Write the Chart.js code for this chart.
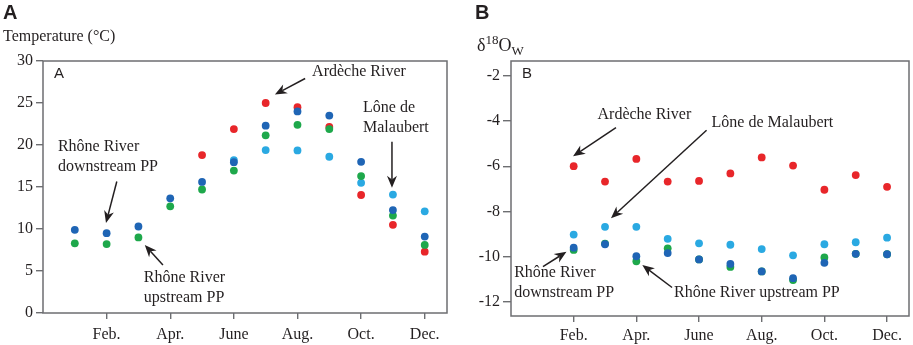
<!DOCTYPE html>
<html>
<head>
<meta charset="utf-8">
<script src="https://cdn.jsdelivr.net/npm/chart.js@4.4.1/dist/chart.umd.min.js"></script>
<style>
  body { margin: 0; background: #fff; width: 913px; height: 345px; position: relative; overflow: hidden; }
  #wrapA { position: absolute; left: 0; top: 0; width: 455px; height: 345px; }
  #wrapB { position: absolute; left: 455px; top: 0; width: 458px; height: 345px; }
</style>
</head>
<body>
<div id="wrapA"><canvas id="chartA"></canvas></div>
<div id="wrapB"><canvas id="chartB"></canvas></div>
<script>
// months (1 = Jan)
const months = [1, 2, 3, 4, 5, 6, 7, 8, 9, 10, 11, 12];
const monthTicks = [2, 4, 6, 8, 10, 12];
const monthLabels = ['Feb.', 'Apr.', 'June', 'Aug.', 'Oct.', 'Dec.'];

// A: temperature (°C)
const tempArdeche    = [null, null, null, null, 18.8, 21.9, 25.0, 24.5, 22.15, 14.05, 10.5, 7.3];
const tempLone       = [null, null, null, null, null, 18.2, 19.4, 19.35, 18.6, 15.5, 14.1, 12.1];
const tempUpstream   = [8.3, 8.2, 9.0, 12.7, 14.7, 16.95, 21.15, 22.4, 21.9, 16.3, 11.6, 8.1];
const tempDownstream = [9.9, 9.5, 10.3, 13.65, 15.6, 17.95, 22.3, 24.0, 23.5, 18.0, 12.25, 9.1];
const tempTicks = [0, 5, 10, 15, 20, 25, 30];

// B: d18O water
const isoArdeche    = [null, -6.0, -6.68, -5.68, -6.68, -6.65, -6.32, -5.61, -5.97, -7.04, -6.39, -6.91];
const isoLone       = [null, -9.02, -8.68, -8.68, -9.21, -9.41, -9.47, -9.66, -9.94, -9.45, -9.36, -9.16];
const isoDownstream = [null, -9.6, -9.45, -9.98, -9.84, -10.12, -10.32, -10.65, -10.95, -10.27, -9.87, -9.89];
const isoUpstream   = [null, -9.7, -9.42, -10.2, -9.63, -10.12, -10.45, -10.65, -11.03, -10.03, -9.87, -9.89];
const isoTicks = [-2, -4, -6, -8, -10, -12];

const SERIF = '"Liberation Serif", "Times New Roman", serif';
const SANS = '"Liberation Sans", Arial, sans-serif';
const INK = '#231f20';
const AXIS = '#6d6e71';

const COL = {
    ardeche: '#e8262a',
    lone: '#2aa9e2',
    upstream: '#1ea84b',
    downstream: '#1f65b5'
};

const pts = (vals) => months.map((m, i) => ({ x: m, y: vals[i] })).filter(p => p.y !== null);

// first dataset is drawn on top
const makeSets = (down, up, lone, ard) => [
    { data: pts(down), backgroundColor: COL.downstream },
    { data: pts(up), backgroundColor: COL.upstream },
    { data: pts(lone), backgroundColor: COL.lone },
    { data: pts(ard), backgroundColor: COL.ardeche }
].map(d => Object.assign(d, { pointRadius: 3.9, borderWidth: 0, showLine: false }));

// annotations in data coordinates
const notesA = [
    { lines: ['Ardèche River'], x: 8.46, y: 28.76, arrow: [8.24, 27.92, 7.29, 26.0] },
    { lines: ['Lône de', 'Malaubert'], x: 10.06, y: 24.46, arrow: [10.97, 20.39, 10.97, 14.9] },
    { lines: ['Rhône River', 'downstream PP'], x: 0.47, y: 19.83, arrow: [2.32, 15.65, 1.98, 10.72] },
    { lines: ['Rhône River', 'upstream PP'], x: 3.17, y: 4.15, arrow: [3.77, 5.7, 3.2, 8.09] }
];
const notesB = [
    { lines: ['Ardèche River'], x: 2.76, y: -3.71, arrow: [3.35, -4.30, 1.98, -5.56] },
    { lines: ['Lône de Malaubert'], x: 6.40, y: -4.08, arrow: [6.24, -4.41, 3.19, -8.30] },
    { lines: ['Rhône River', 'downstream PP'], x: 0.10, y: -10.72, arrow: [1.02, -10.44, 1.77, -9.78] },
    { lines: ['Rhône River upstream PP'], x: 5.20, y: -11.61, arrow: [5.14, -11.36, 4.19, -10.37] }
];

function drawArrow(ctx, x1, y1, x2, y2) {
    const ang = Math.atan2(y2 - y1, x2 - x1);
    const len = 12, half = 5;
    ctx.save();
    ctx.strokeStyle = INK;
    ctx.fillStyle = INK;
    ctx.lineWidth = 1.5;
    ctx.beginPath();
    ctx.moveTo(x1, y1);
    ctx.lineTo(x2 - Math.cos(ang) * len * 0.7, y2 - Math.sin(ang) * len * 0.7);
    ctx.stroke();
    ctx.translate(x2, y2);
    ctx.rotate(ang);
    ctx.beginPath();
    ctx.moveTo(0, 0);
    ctx.lineTo(-len, -half);
    ctx.lineTo(-len * 0.7, 0);
    ctx.lineTo(-len, half);
    ctx.closePath();
    ctx.fill();
    ctx.restore();
}

const decorPlugin = {
    id: 'decor',
    afterDraw(chart, args, opts) {
        const { ctx, chartArea: ca, scales } = chart;
        ctx.save();
        // frame
        ctx.strokeStyle = AXIS;
        ctx.lineWidth = 1.5;
        ctx.strokeRect(ca.left, ca.top, ca.right - ca.left, ca.bottom - ca.top);

        // panel letter + inner letter
        ctx.fillStyle = INK;
        ctx.textBaseline = 'middle';
        ctx.textAlign = 'left';
        ctx.font = 'bold 20px ' + SANS;
        ctx.fillText(opts.letter, opts.letterX, 13);
        ctx.font = '15px ' + SANS;
        ctx.fillText(opts.letter, ca.left + 11, ca.top + 13);

        // axis title
        opts.title(ctx);

        // notes
        ctx.font = '16px ' + SERIF;
        ctx.fillStyle = INK;
        opts.notes.forEach(n => {
            const px = scales.x.getPixelForValue(n.x);
            const py = scales.y.getPixelForValue(n.y);
            n.lines.forEach((t, i) => ctx.fillText(t, px, py + i * 20));
            const a = n.arrow;
            drawArrow(ctx,
                scales.x.getPixelForValue(a[0]), scales.y.getPixelForValue(a[1]),
                scales.x.getPixelForValue(a[2]), scales.y.getPixelForValue(a[3]));
        });
        ctx.restore();
    }
};

function makeChart(id, sets, cfg) {
    return new Chart(document.getElementById(id), {
        type: 'scatter',
        data: { datasets: sets },
        plugins: [decorPlugin],
        options: {
            responsive: true,
            maintainAspectRatio: false,
            animation: false,
            layout: { padding: { left: 0, right: cfg.padRight, top: 61, bottom: 0 } },
            plugins: {
                legend: { display: false },
                tooltip: { enabled: false },
                decor: { letter: cfg.letter, letterX: cfg.letterX, notes: cfg.notes, title: cfg.title }
            },
            scales: {
                x: {
                    type: 'linear', min: 0, max: 12.7,
                    afterBuildTicks: s => { s.ticks = monthTicks.map(v => ({ value: v })); },
                    afterFit: s => { s.height = cfg.xHeight; },
                    ticks: {
                        autoSkip: false, maxRotation: 0, padding: cfg.xPad, color: INK,
                        font: { family: SERIF, size: 16 },
                        callback: v => monthLabels[monthTicks.indexOf(v)]
                    },
                    grid: { drawOnChartArea: false, drawTicks: true, tickLength: 6, color: AXIS, lineWidth: 1.4 },
                    border: { display: false }
                },
                y: {
                    min: cfg.yMin, max: cfg.yMax,
                    afterBuildTicks: s => { s.ticks = cfg.yTicks.map(v => ({ value: v })); },
                    afterFit: s => { s.width = cfg.yWidth; },
                    ticks: {
                        autoSkip: false, padding: 3, color: INK,
                        font: { family: SERIF, size: 16 },
                        callback: v => String(v)
                    },
                    grid: { drawOnChartArea: false, drawTicks: true, tickLength: cfg.yTick, color: AXIS, lineWidth: 1.4 },
                    border: { display: false }
                }
            }
        }
    });
}

makeChart('chartA', makeSets(tempDownstream, tempUpstream, tempLone, tempArdeche), {
    letter: 'A', letterX: 3, notes: notesA,
    padRight: 8, xHeight: 32, xPad: 6, yWidth: 43, yTick: 7,
    yMin: 0, yMax: 30, yTicks: tempTicks,
    title: (ctx) => {
        ctx.font = '16px ' + SERIF;
        ctx.fillStyle = INK;
        ctx.fillText('Temperature (°C)', 3, 37);
    }
});

makeChart('chartB', makeSets(isoDownstream, isoUpstream, isoLone, isoArdeche), {
    letter: 'B', letterX: 20, notes: notesB,
    padRight: 2, xHeight: 29, xPad: 4, yWidth: 56, yTick: 8,
    yMin: -12.62, yMax: -1.35, yTicks: isoTicks,
    title: (ctx) => {
        ctx.fillStyle = INK;
        ctx.textAlign = 'left';
        ctx.textBaseline = 'alphabetic';
        let x = 22;
        ctx.font = '18px ' + SERIF;
        ctx.fillText('δ', x, 51);
        x += ctx.measureText('δ').width;
        ctx.font = '13px ' + SERIF;
        ctx.fillText('18', x, 44);
        x += ctx.measureText('18').width;
        ctx.font = '18px ' + SERIF;
        ctx.fillText('O', x, 51);
        x += ctx.measureText('O').width;
        ctx.font = '13px ' + SERIF;
        ctx.fillText('W', x, 55);
        ctx.textBaseline = 'middle';
    }
});
</script>
</body>
</html>
